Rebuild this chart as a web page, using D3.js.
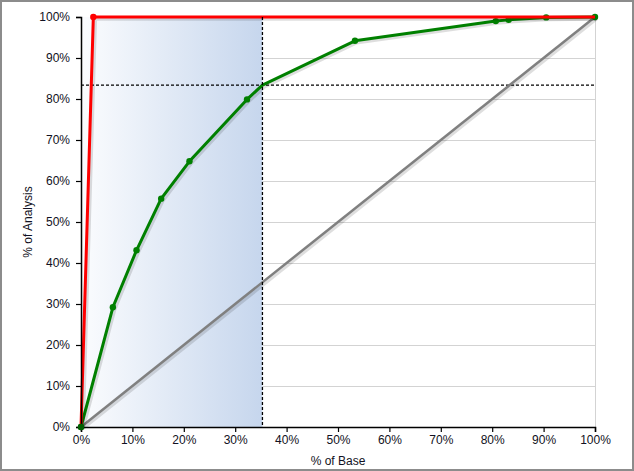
<!DOCTYPE html>
<html><head><meta charset="utf-8">
<script src="https://cdn.jsdelivr.net/npm/d3@7"></script>
<style>
html,body{margin:0;padding:0;background:#fff;}
svg{display:block;font-family:Arial,"Liberation Sans",sans-serif;}
</style></head>
<body>
<svg id="chart" width="634" height="471"></svg>
<script>
const xTicks = [0,10,20,30,40,50,60,70,80,90,100];
const yTicks = [0,10,20,30,40,50,60,70,80,90,100];
const greenX = [0, 6.2, 10.8, 15.6, 21.1, 32.3, 35.3, 53.3, 80.7, 83.2, 90.5, 100];
const greenY = [0, 29.2, 43.1, 55.7, 64.8, 79.9, 83.4, 94.2, 99.0, 99.3, 99.9, 100];
const greenDot = [true, true, true, true, true, true, false, true, true, true, true, true];
const redX = [0, 2.4, 100];
const redY = [0, 100, 100];
const redDot = [false, true, false];
const diagX = [0, 100];
const diagY = [0, 100];
const cutX = [35.3];
const cutY = [83.4];

const svg = d3.select("#chart");
const W = 634, H = 471;
const m = {left:81, right:39, top:17, bottom:44};
const x = d3.scaleLinear().domain([0,100]).range([m.left, W - m.right]);
const y = d3.scaleLinear().domain([0,100]).range([H - m.bottom, m.top]);
const txt = "#111122";

// outer frame
svg.append("rect").attr("x",1).attr("y",1).attr("width",W-2).attr("height",H-2)
  .attr("fill","#fff").attr("stroke","#8c8c8c").attr("stroke-width",2);

const defs = svg.append("defs");
const grad = defs.append("linearGradient").attr("id","shade").attr("x1","0").attr("x2","1").attr("y1","0").attr("y2","0");
grad.append("stop").attr("offset","0").attr("stop-color","#fbfcfe");
grad.append("stop").attr("offset","1").attr("stop-color","#c6d6ed");

// gridlines
svg.append("g").selectAll("line").data(yTicks).join("line")
  .attr("x1", x(0)).attr("x2", x(100))
  .attr("y1", d => y(d)).attr("y2", d => y(d))
  .attr("stroke","#d3d3d3").attr("stroke-width",1).attr("shape-rendering","crispEdges");
svg.append("line").attr("x1", x(100)).attr("x2", x(100)).attr("y1", y(0)).attr("y2", y(100))
  .attr("stroke","#d3d3d3").attr("shape-rendering","crispEdges");

// shaded region
svg.append("rect").attr("x", x(0)).attr("y", y(100))
  .attr("width", x(cutX[0]) - x(0)).attr("height", y(0) - y(100))
  .attr("fill","url(#shade)");

const line = d3.line().x(d => x(d[0])).y(d => y(d[1]));
function drawSeries(xs, ys, color, width, dots) {
  const pts = xs.map((v,i) => [v, ys[i]]);
  svg.append("path").datum(pts).attr("d", line)
    .attr("fill","none").attr("stroke","#000").attr("stroke-opacity",0.13)
    .attr("stroke-width", width + 1.5).attr("transform","translate(1.5,1.5)")
    .attr("stroke-linejoin","round");
  svg.append("path").datum(pts).attr("d", line)
    .attr("fill","none").attr("stroke",color).attr("stroke-width",width)
    .attr("stroke-linejoin","round");
  if (dots) {
    svg.append("g").selectAll("circle").data(pts.filter((p,i) => dots[i])).join("circle")
      .attr("cx", d => x(d[0])).attr("cy", d => y(d[1])).attr("r", 3.2).attr("fill", color);
  }
}

// dashed cut line (horizontal)
svg.append("line").attr("x1", x(0)).attr("x2", x(100)).attr("y1", y(cutY[0])).attr("y2", y(cutY[0]))
  .attr("stroke","#000").attr("stroke-dasharray","3,2").attr("stroke-width",1.3);

drawSeries(diagX, diagY, "#808080", 2.5, null);
drawSeries(greenX, greenY, "#008000", 3, greenDot);
drawSeries(redX, redY, "#ff0000", 3, redDot);

svg.append("line").attr("x1", x(cutX[0])).attr("x2", x(cutX[0])).attr("y1", y(100)).attr("y2", y(0))
  .attr("stroke","#000").attr("stroke-dasharray","3,2").attr("stroke-width",1.3);

// axes
const fmt = d => d + "%";
const xAxis = svg.append("g").attr("transform", `translate(0,${y(0)})`)
  .call(d3.axisBottom(x).tickValues(xTicks).tickFormat(fmt).tickSize(5).tickPadding(3));
const yAxis = svg.append("g").attr("transform", `translate(${x(0)},0)`)
  .call(d3.axisLeft(y).tickValues(yTicks).tickFormat(fmt).tickSize(5).tickPadding(6));
[xAxis, yAxis].forEach(a => {
  a.select(".domain").attr("stroke","#000").attr("stroke-width",1.5);
  a.selectAll(".tick line").attr("stroke","#000").attr("stroke-width",1.2);
  a.selectAll("text").attr("fill",txt).style("font-size","12px").style("font-family","Arial, 'Liberation Sans', sans-serif");
});

// origin dot on top
svg.append("circle").attr("cx", x(0)).attr("cy", y(0)).attr("r", 3.2).attr("fill","#006000");

// axis titles
svg.append("text").attr("x", (x(0)+x(100))/2).attr("y", 465).attr("text-anchor","middle")
  .attr("fill",txt).style("font-size","12px").text("% of Base");
svg.append("text").attr("transform", `translate(32,${(y(0)+y(100))/2}) rotate(-90)`)
  .attr("text-anchor","middle").attr("fill",txt).style("font-size","12px").text("% of Analysis");
</script>
</body></html>
